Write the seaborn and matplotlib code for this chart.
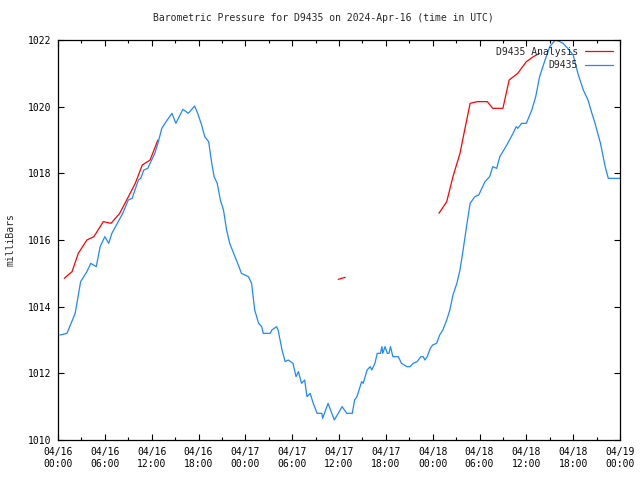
import numpy as np
import pandas as pd
from matplotlib import pyplot as plt
from matplotlib.lines import Line2D
from matplotlib.ticker import MultipleLocator
import seaborn as sns

# hours since 2024-04-16 00:00 UTC and pressure in mbar
obs_hours = [0.25, 1.15, 2.2, 2.9, 3.7, 4.2, 4.9, 5.4, 6.0, 6.5, 6.9, 7.6, 8.3, 9.0, 9.5,
             10.3, 10.6, 11.0, 11.5, 12.4, 12.8, 13.3, 13.7, 14.6, 15.1, 16.0, 16.7, 17.5,
             17.9, 18.4, 18.8, 19.3, 19.7, 20.0, 20.4, 20.8, 21.2, 21.6, 22.0, 22.5, 23.1,
             23.5, 24.4, 24.8, 25.2, 25.7, 26.1, 26.3, 27.2, 27.4, 28.0, 28.2, 28.7, 29.1,
             29.5, 30.1, 30.5, 30.8, 31.2, 31.6, 31.9, 32.3, 32.7, 33.2, 33.8, 33.9, 34.6,
             35.4, 36.4, 37.0, 37.7, 38.0, 38.3, 38.7, 38.9, 39.1, 39.6, 40.0, 40.2, 40.6,
             40.9, 41.3, 41.5, 41.6, 41.9, 42.2, 42.4, 42.6, 42.9, 43.6, 44.0, 44.7, 45.1,
             45.5, 46.0, 46.5, 46.8, 47.0, 47.3, 47.7, 48.0, 48.5, 48.9, 49.3, 49.8, 50.2,
             50.6, 51.1, 51.5, 51.9, 52.4, 52.8, 53.4, 53.9, 54.7, 55.3, 55.7, 56.2, 56.6,
             57.5, 58.3, 58.7, 58.9, 59.4, 60.0, 60.7, 61.2, 61.7, 62.4, 63.0, 63.7, 64.3,
             64.7, 65.3, 66.0, 66.6, 67.3, 67.9, 68.4, 68.8, 69.5, 70.1, 70.5, 72.0]
obs_mbar = [1013.15, 1013.2, 1013.8, 1014.75, 1015.05, 1015.3, 1015.2, 1015.8, 1016.1, 1015.9,
            1016.2, 1016.5, 1016.8, 1017.2, 1017.25, 1017.8, 1017.85, 1018.1, 1018.15, 1018.6,
            1018.9, 1019.35, 1019.5, 1019.8, 1019.5, 1019.92, 1019.8, 1020.02, 1019.8, 1019.45,
            1019.1, 1018.95, 1018.3, 1017.9, 1017.7, 1017.2, 1016.9, 1016.3, 1015.9, 1015.6,
            1015.25, 1015.0, 1014.9, 1014.7, 1013.9, 1013.5, 1013.4, 1013.2, 1013.2, 1013.3,
            1013.4, 1013.3, 1012.7, 1012.35, 1012.4, 1012.3, 1011.9, 1012.05, 1011.7, 1011.8,
            1011.3, 1011.4, 1011.1, 1010.8, 1010.8, 1010.65, 1011.1, 1010.6, 1011.0, 1010.8,
            1010.8, 1011.2, 1011.3, 1011.6, 1011.75, 1011.7, 1012.1, 1012.2, 1012.1, 1012.3,
            1012.6, 1012.6, 1012.8, 1012.6, 1012.8, 1012.6, 1012.6, 1012.8, 1012.5, 1012.5,
            1012.3, 1012.2, 1012.2, 1012.3, 1012.35, 1012.5, 1012.5, 1012.4, 1012.5, 1012.75,
            1012.85, 1012.9, 1013.15, 1013.3, 1013.6, 1013.9, 1014.35, 1014.7, 1015.1, 1015.7,
            1016.5, 1017.1, 1017.3, 1017.35, 1017.75, 1017.9, 1018.2, 1018.15, 1018.5, 1018.85,
            1019.2, 1019.4, 1019.35, 1019.5, 1019.5, 1019.9, 1020.3, 1020.9, 1021.4, 1021.8,
            1022.0, 1021.95, 1021.9, 1021.75, 1021.55, 1021.0, 1020.5, 1020.2, 1019.8, 1019.5,
            1018.9, 1018.2, 1017.85, 1017.85]

# analysis series, with gaps between segments
ana_hours = [0.8, 1.8, 2.6, 3.7, 4.6, 5.8, 6.8, 7.9, 8.8, 9.9, 10.8, 11.8, 12.8,
             35.9, 36.8,
             48.8, 49.8, 50.6, 51.5, 52.1, 52.8, 53.7, 55.0, 55.7, 57.0, 57.8, 58.9,
             60.0, 60.9, 61.7]
ana_mbar = [1014.85, 1015.05, 1015.6, 1016.0, 1016.1, 1016.55, 1016.5, 1016.8, 1017.2,
            1017.7, 1018.25, 1018.4, 1019.0,
            1014.82, 1014.88,
            1016.8, 1017.15, 1017.9, 1018.6, 1019.3, 1020.1, 1020.15, 1020.15, 1019.95,
            1019.95, 1020.8, 1021.0, 1021.35, 1021.5, 1021.6]
ana_segment = [0] * 13 + [1] * 2 + [2] * 15

tick_labels = ['04/16\n00:00', '04/16\n06:00', '04/16\n12:00', '04/16\n18:00',
               '04/17\n00:00', '04/17\n06:00', '04/17\n12:00', '04/17\n18:00',
               '04/18\n00:00', '04/18\n06:00', '04/18\n12:00', '04/18\n18:00',
               '04/19\n00:00']

sns.set_theme(style='white')
plt.rcParams['font.family'] = ['DejaVu Sans Mono']
plt.rcParams['font.size'] = 7

obs = pd.DataFrame({'hour': obs_hours, 'mbar': obs_mbar})
ana = pd.DataFrame({'hour': ana_hours, 'mbar': ana_mbar, 'seg': ana_segment})

red = '#ff0000'
blue = '#1e88ff'

fig = plt.figure(figsize=(6.4, 4.8), dpi=100)
ax = fig.add_axes([58 / 640, 40 / 480, 562 / 640, 400 / 480])

sns.lineplot(data=ana, x='hour', y='mbar', units='seg', estimator=None,
             color=red, lw=0.9, ax=ax, legend=False)
sns.lineplot(data=obs, x='hour', y='mbar', color=blue, lw=0.9, ax=ax, legend=False)

ax.set_xlim(0, 72)
ax.set_ylim(1010, 1022)
ax.set_xticks(np.arange(0, 73, 6))
ax.set_xticklabels(tick_labels)
ax.xaxis.set_minor_locator(MultipleLocator(3))
ax.set_yticks(np.arange(1010, 1023, 2))

ax.tick_params(which='both', direction='in', top=True, right=True,
               bottom=True, left=True, colors='black', labelsize=7, width=0.8)
ax.tick_params(which='major', length=4, pad=5)
ax.tick_params(which='minor', length=2)
for s in ax.spines.values():
    s.set_color('black')
    s.set_linewidth(0.9)

ax.set_xlabel('')
ax.set_ylabel('milliBars', fontsize=7, labelpad=9)
fig.text(0.506, 0.963, 'Barometric Pressure for D9435 on 2024-Apr-16 (time in UTC)',
         ha='center', va='center', fontsize=7)

handles = [Line2D([], [], color=red, lw=0.9), Line2D([], [], color=blue, lw=0.9)]
ax.legend(handles, ['D9435 Analysis', 'D9435'], loc='upper right', frameon=False,
          markerfirst=False, fontsize=7, handlelength=2.9, handletextpad=0.7,
          labelspacing=0.35, borderaxespad=0.5, borderpad=0.2)

fig.savefig('out.png', dpi=100)
